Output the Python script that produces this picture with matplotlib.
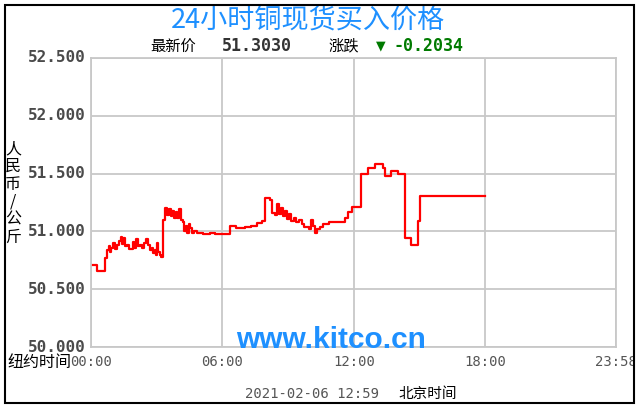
import matplotlib
matplotlib.use("Agg")
import matplotlib.pyplot as plt
from matplotlib.patches import Rectangle

plt.rcParams['font.family'] = ['Noto Sans CJK SC', 'DejaVu Sans']

# price data (hours after 00:00 New York time, RMB/kg)
hours = [0.00, 0.27, 0.64, 0.73, 0.82, 0.87, 0.91, 1.00, 1.09, 1.19, 1.28, 1.37,
         1.41, 1.46, 1.55, 1.64, 1.73, 1.82, 1.92, 1.96, 2.05, 2.14, 2.24, 2.33,
         2.42, 2.51, 2.60, 2.69, 2.78, 2.83, 2.92, 2.97, 3.01, 3.06, 3.15, 3.19,
         3.28, 3.38, 3.47, 3.56, 3.65, 3.70, 3.79, 3.88, 3.92, 4.01, 4.11, 4.20,
         4.24, 4.33, 4.38, 4.47, 4.52, 4.61, 4.70, 4.84, 5.11, 5.43, 5.66, 5.98,
         6.34, 6.61, 7.03, 7.30, 7.57, 7.80, 7.94, 8.17, 8.26, 8.39, 8.49, 8.58,
         8.67, 8.76, 8.85, 8.94, 9.03, 9.12, 9.26, 9.35, 9.49, 9.63, 9.72, 9.85,
         9.95, 10.04, 10.13, 10.22, 10.31, 10.45, 10.58, 10.86, 11.59, 11.72,
         11.91, 12.32, 12.64, 12.96, 13.32, 13.41, 13.69, 14.01, 14.32, 14.60,
         14.92, 15.01, 17.97]
prices = [50.71, 50.66, 50.77, 50.84, 50.87, 50.82, 50.86, 50.90, 50.85, 50.88,
          50.92, 50.95, 50.89, 50.94, 50.87, 50.88, 50.85, 50.85, 50.91, 50.86,
          50.93, 50.87, 50.88, 50.86, 50.90, 50.93, 50.88, 50.84, 50.86, 50.81,
          50.84, 50.80, 50.90, 50.82, 50.80, 50.78, 51.10, 51.20, 51.14, 51.19,
          51.13, 51.18, 51.12, 51.17, 51.12, 51.19, 51.10, 51.08, 51.00, 51.05,
          50.99, 51.06, 51.03, 50.99, 51.00, 50.99, 50.98, 50.99, 50.98, 50.98,
          51.05, 51.03, 51.04, 51.05, 51.07, 51.09, 51.29, 51.27, 51.16, 51.14,
          51.24, 51.15, 51.20, 51.13, 51.18, 51.11, 51.15, 51.09, 51.12, 51.08,
          51.10, 51.06, 51.04, 51.04, 51.02, 51.10, 51.05, 50.99, 51.02, 51.04,
          51.06, 51.08, 51.12, 51.17, 51.21, 51.50, 51.55, 51.58, 51.55, 51.48,
          51.52, 51.50, 50.94, 50.88, 51.09, 51.303, 51.303]

y_ticks = [50.0, 50.5, 51.0, 51.5, 52.0, 52.5]
x_ticks = [0, 6, 12, 18, 23 + 58 / 60]
x_labels = ['00:00', '06:00', '12:00', '18:00', '23:58']

title = '24小时铜现货买入价格'
latest = '51.3030'
change = '-0.2034'
stamp = '2021-02-06 12:59'

W, H = 643, 412
fig = plt.figure(figsize=(W / 100, H / 100), dpi=100)
fig.patch.set_facecolor('white')

ax = fig.add_axes([91 / W, (H - 347) / H, (616 - 91) / W, (347 - 58) / H])
ax.plot(hours, prices, color='#ff0000', linewidth=1.6, drawstyle='steps-post')
ax.set_xlim(0, x_ticks[-1])
ax.set_ylim(50.0, 52.5)
ax.set_xticks(x_ticks)
ax.set_yticks(y_ticks)
ax.set_xticklabels([])
ax.set_yticklabels([])
ax.tick_params(length=0)
ax.grid(True, color='#c8c8c8', linewidth=1.3)
for s in ax.spines.values():
    s.set_color('#c8c8c8')
    s.set_linewidth(1.3)

# y tick labels
for v in y_ticks:
    yp = ax.transData.transform((0, v))[1]
    fig.text(86 / W, yp / H, f'{v:,.3f}', ha='right', va='center',
             family='DejaVu Sans Mono', weight='bold', fontsize=11.5, color='#4a4a4a')

# x tick labels
for t, lab in zip(x_ticks, x_labels):
    xp = ax.transData.transform((t, 50))[0]
    fig.text(xp / W, 1 - 362 / H, lab, ha='center', va='center',
             family='DejaVu Sans Mono', fontsize=10, color='#555555')
fig.text(7 / W, 1 - 362 / H, '纽约时间', ha='left', va='center', fontsize=11.5, color='black')

# y axis label, stacked characters
fig.text(13 / W, 1 - 193 / H, '人\n民\n币\n/\n公\n斤', ha='center', va='center',
         fontsize=11.5, color='black', linespacing=1.05)

# header
fig.text(308 / W, 1 - 20 / H, title, ha='center', va='center',
         fontsize=19.5, color='#1e90ff')
fig.text(150 / W, 1 - 46 / H, '最新价', ha='left', va='center', fontsize=11, color='black')
fig.text(222 / W, 1 - 46 / H, latest, ha='left', va='center',
         family='DejaVu Sans Mono', weight='bold', fontsize=12, color='#333333')
fig.text(328 / W, 1 - 46 / H, '涨跌', ha='left', va='center', fontsize=11, color='black')
fig.text(376 / W, 1 - 46 / H, '▼', ha='left', va='center',
         family='DejaVu Sans', fontsize=9, color='#007a00')
fig.text(394 / W, 1 - 46 / H, change, ha='left', va='center',
         family='DejaVu Sans Mono', weight='bold', fontsize=12, color='#007a00')

# watermark
fig.text(331 / W, 1 - 340 / H, 'www.kitco.cn', ha='center', va='center',
         family='Liberation Sans', weight='bold', fontsize=21.5, color='#1e90ff')

# footer
fig.text(312 / W, 1 - 394 / H, stamp, ha='center', va='center',
         family='DejaVu Sans Mono', fontsize=10, color='#555555')
fig.text(398 / W, 1 - 394 / H, '北京时间', ha='left', va='center', fontsize=10.5, color='black')

# clip the right edge and draw the outer frame
fig.patches.append(Rectangle((635 / W, 0), 1, 1, transform=fig.transFigure,
                             facecolor='white', edgecolor='none', zorder=10))
fig.patches.append(Rectangle((5 / W, 1 - 403 / H), 629 / W, 398 / H, transform=fig.transFigure,
                             facecolor='none', edgecolor='black', linewidth=1.5, zorder=11))

fig.savefig('out.png', dpi=100)
